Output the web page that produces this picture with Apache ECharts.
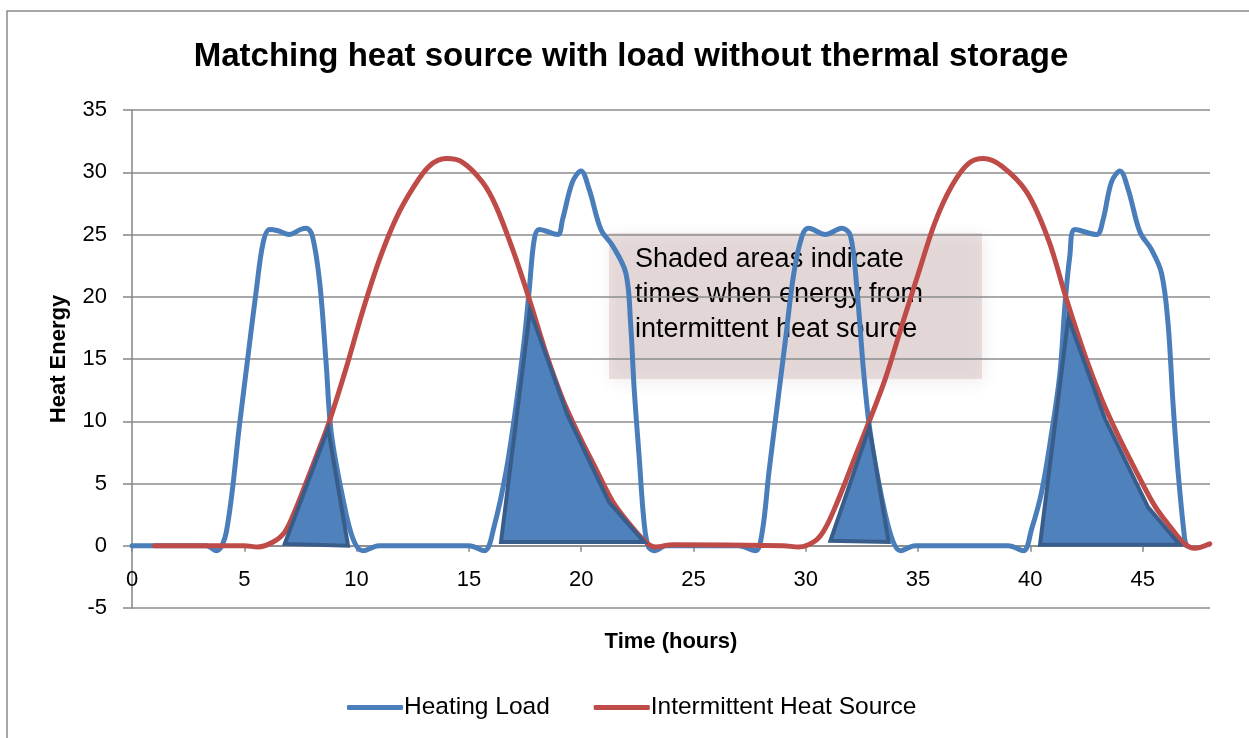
<!DOCTYPE html>
<html>
<head>
<meta charset="utf-8">
<script src="https://cdn.jsdelivr.net/npm/echarts@6/dist/echarts.min.js"></script>
<style>
html,body{margin:0;padding:0;background:#fff;}
#chart{width:1249px;height:738px;}
</style>
</head>
<body>
<div id="chart"></div>
<script>
// ---- data ----
const loadHours = [0,3.3,3.76,4.2,4.8,5.17,5.54,5.84,6.13,6.5,7.0,7.5,7.76,8.03,8.36,8.65,8.87,9.39,9.84,10.28,11.0,
  15.0,15.69,16.13,16.65,17.1,17.47,17.69,17.91,18.13,18.95,19.17,19.61,19.99,20.36,20.88,21.4,21.99,22.2,22.36,22.58,22.8,23.0,23.3,23.76,
  27.0,27.76,28.06,28.36,28.73,29.1,29.47,29.84,30.13,30.87,31.61,31.99,32.28,32.58,32.87,33.39,33.84,34.21,34.87,
  39.02,39.69,40.06,40.5,40.95,41.32,41.54,41.76,41.99,42.95,43.24,43.61,43.99,44.36,44.88,45.39,45.84,46.13,46.36,46.58,46.87,46.95];
const loadValues = [0,0,-0.4,1.1,9.9,15.3,20.6,24.35,25.4,25.3,25.0,25.4,25.5,24.9,21.1,14.5,9.1,3.8,0.56,-0.4,0,
  0,-0.4,1.6,5.9,11.25,16.6,20.6,24.6,25.4,25.0,26.2,29.2,30.1,28.6,25.4,24.1,21.9,17.9,12.6,7.2,1.9,-0.1,-0.4,0,
  0,-0.4,1.1,5.9,11.25,16.6,21.9,24.9,25.5,25.0,25.5,24.9,20.6,13.9,9.1,3.8,0.56,-0.4,0,
  0,-0.4,1.36,4.3,9.1,13.9,19.3,23.3,25.4,25.0,26.2,29.2,30.1,28.6,25.2,23.8,21.9,17.9,11.25,5.9,0.56,0];

const sourceHours = [1,5.0,5.6,6.28,6.8,7.3,7.76,8.21,8.77,9.54,10.28,11.02,11.76,12.5,13.24,13.99,14.72,15.61,16.2,16.95,17.69,18.43,19.17,19.91,20.65,21.39,22.13,22.88,23.32,24.06,
  29.0,29.69,30.43,30.87,31.47,32.21,32.87,33.54,34.28,35.02,35.76,36.5,37.24,37.91,38.72,39.84,40.8,41.61,42.43,43.17,43.91,44.65,45.54,46.28,46.87,47.32,47.99];
const sourceValues = [0,0,-0.1,0.3,1.1,3.0,5.1,7.2,9.9,14.3,18.9,23.0,26.3,28.7,30.5,31.1,30.8,29.2,27.3,23.8,19.8,15.5,11.8,8.85,6.2,3.6,1.8,0.3,-0.1,0.08,
  0,-0.1,0.4,1.4,3.8,7.2,10.2,13.4,17.7,21.9,26.0,28.9,30.7,31.1,30.5,28.4,24.6,19.8,15.3,11.8,8.85,6.2,3.2,1.4,0.16,-0.2,0.16];

// shaded areas (vertices: hours / heat energy)
const shade1X = [6.8, 8.73, 9.62];
const shade1Y = [0.15, 9.4, 0];
const shade2X = [16.43, 17.72, 19.4, 21.24, 22.8];
const shade2Y = [0.3, 18.9, 10.45, 3.5, 0.3];
const shade3X = [31.1, 32.83, 33.69];
const shade3Y = [0.4, 9.5, 0.3];
const shade4X = [40.43, 41.69, 43.32, 45.24, 46.65];
const shade4Y = [0.08, 18.3, 10.2, 3.1, 0.08];

const xTicks = [0,5,10,15,20,25,30,35,40,45];
const seriesNames = ['Heating Load', 'Intermittent Heat Source'];
const titleText = 'Matching heat source with load without thermal storage';
const xName = 'Time (hours)';
const yName = 'Heat Energy';
const noteLines = ['Shaded areas indicate', 'times when energy from', 'intermittent heat source'];

// ---- build ----
const shades = [[shade1X, shade1Y],[shade2X, shade2Y],[shade3X, shade3Y],[shade4X, shade4Y]];
const zip = (xs, ys) => xs.map((x, i) => [x, ys[i]]);
const FONT = '"Liberation Sans", Arial, sans-serif';
const Y_MIN = -5, Y_MAX = 35, GRID_TOP = 110, GRID_BOTTOM = 130, H = 738;
// x axis crosses the value axis at 0: shift it up from the bottom edge
const plotH = H - GRID_TOP - GRID_BOTTOM;
const zeroOffset = -plotH * (0 - Y_MIN) / (Y_MAX - Y_MIN);

const chart = echarts.init(document.getElementById('chart'));
chart.setOption({
  animation: false,
  backgroundColor: '#fff',
  title: {
    text: titleText,
    left: 631,
    textAlign: 'center',
    top: 40,
    padding: 0,
    textStyle: { fontFamily: FONT, fontSize: 33, fontWeight: 'bold', color: '#000' }
  },
  legend: {
    data: seriesNames,
    left: 342,
    top: 690,
    icon: 'roundRect',
    itemWidth: 56,
    itemHeight: 5,
    itemGap: 44,
    textStyle: { fontFamily: FONT, fontSize: 24.5, color: '#000', padding: [0,0,0,-4] }
  },
  grid: { left: 132, right: 39, top: GRID_TOP, bottom: GRID_BOTTOM },
  xAxis: {
    type: 'value',
    min: 0, max: 48, interval: 5,
    offset: zeroOffset,
    name: xName,
    nameLocation: 'middle',
    nameGap: 85,
    nameTextStyle: { fontFamily: FONT, fontSize: 22, fontWeight: 'bold', color: '#000' },
    axisLine: { onZero: false, lineStyle: { color: '#868686', width: 1.5 } },
    axisTick: { show: true, length: 6, customValues: xTicks, lineStyle: { color: '#868686', width: 1.5 } },
    axisLabel: { customValues: xTicks, margin: 23, fontFamily: FONT, fontSize: 22, color: '#000' },
    splitLine: { show: false }
  },
  yAxis: {
    type: 'value',
    min: Y_MIN, max: Y_MAX, interval: 5,
    name: yName,
    nameLocation: 'middle',
    nameGap: 62,
    nameRotate: 90,
    nameTextStyle: { fontFamily: FONT, fontSize: 22, fontWeight: 'bold', color: '#000' },
    axisLine: { show: true, onZero: false, lineStyle: { color: '#868686', width: 1.5 } },
    axisTick: { show: true, length: 9, lineStyle: { color: '#868686', width: 1.5 } },
    axisLabel: { margin: 25, fontFamily: FONT, fontSize: 22, color: '#000' },
    splitLine: { show: true, lineStyle: { color: '#8c8c8c', width: 1.5 } }
  },
  series: [
    {
      name: seriesNames[0], type: 'line', data: zip(loadHours, loadValues),
      smooth: 0.35, symbol: 'none', z: 3,
      lineStyle: { color: '#4A7EBB', width: 5, cap: 'round', join: 'round' },
      itemStyle: { color: '#4A7EBB' }
    },
    {
      name: seriesNames[1], type: 'line', data: zip(sourceHours, sourceValues),
      smooth: 0.35, symbol: 'none', z: 3,
      lineStyle: { color: '#BE4B48', width: 5, cap: 'round', join: 'round' },
      itemStyle: { color: '#BE4B48' }
    },
    {
      name: 'shaded', type: 'custom', z: 5,
      data: shades.map((s, i) => [s[0][0], s[1][0], i]),
      renderItem: function (params, api) {
        const s = shades[api.value(2)];
        const pts = s[0].map((x, k) => api.coord([x, s[1][k]]));
        return {
          type: 'polygon',
          shape: { points: pts },
          style: { fill: '#4F81BD', stroke: '#385D8A', lineWidth: 4, lineJoin: 'miter' }
        };
      }
    }
  ],
  graphic: [
    {
      type: 'rect', z: -1, silent: true,
      shape: { x: 7, y: 11, width: 1300, height: 800 },
      style: { fill: 'none', stroke: '#8a8a8a', lineWidth: 1.5 }
    },
    {
      type: 'group', z: 100,
      children: [
        {
          type: 'rect',
          shape: { x: 609, y: 233, width: 373, height: 146 },
          style: { fill: 'rgba(205,178,178,0.38)', shadowBlur: 14, shadowColor: 'rgba(120,90,90,0.3)', shadowOffsetX: 2, shadowOffsetY: 3 }
        },
        {
          type: 'text',
          x: 635, y: 295,
          style: {
            text: noteLines.join('\n'),
            font: '27px ' + FONT,
            fill: '#000',
            lineHeight: 35,
            verticalAlign: 'middle',
            align: 'left'
          }
        }
      ]
    }
  ]
});
</script>
</body>
</html>
